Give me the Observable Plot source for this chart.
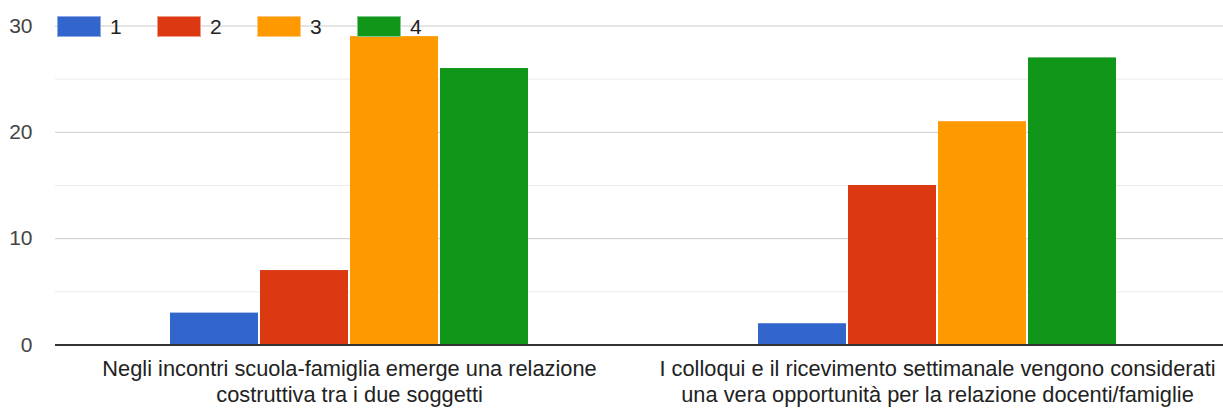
<!DOCTYPE html>
<html>
<head>
<meta charset="utf-8">
<script src="https://cdn.jsdelivr.net/npm/d3@7"></script>
<script src="https://cdn.jsdelivr.net/npm/@observablehq/plot@0.6"></script>
<style>
  html, body { margin: 0; padding: 0; background: #fff; overflow: hidden; }
  #wrap { position: relative; width: 1223px; height: 410px; font-family: "Liberation Sans", Arial, sans-serif; }
  #legend { position: absolute; left: 57px; top: 16px; display: flex; }
  .item { display: flex; align-items: center; width: 100px; height: 21px; }
  .sw { width: 42px; height: 19px; border: 1px solid; box-sizing: content-box; }
  .lb { margin-left: 9px; font-size: 21px; color: #222; line-height: 21px; }
</style>
</head>
<body>
<div id="wrap"><div id="legend"></div></div>
<script>
const questions = [
  "Negli incontri scuola-famiglia emerge una relazione\ncostruttiva tra i due soggetti",
  "I colloqui e il ricevimento settimanale vengono considerati\nuna vera opportunità per la relazione docenti/famiglie"
];
const series = ["1", "2", "3", "4"];
const colors = ["#3366cc", "#dc3912", "#ff9900", "#109618"];
const borders = ["#8fa9e3", "#ee9a85", "#ffc880", "#7fc98a"];
const valuesQ1 = [3, 7, 29, 26];
const valuesQ2 = [2, 15, 21, 27];
const yTicks = [0, 10, 20, 30];
const yMinor = [5, 15, 25];

const data = [];
[valuesQ1, valuesQ2].forEach((vals, qi) => {
  vals.forEach((v, si) => data.push({question: questions[qi], series: series[si], value: v}));
});

const chart = Plot.plot({
  width: 1223,
  height: 410,
  marginLeft: 56,
  marginRight: 0,
  marginTop: 25.5,
  marginBottom: 65.5,
  style: {fontFamily: "'Liberation Sans', Arial, sans-serif", background: "transparent", overflow: "hidden"},
  fx: {domain: questions, range: [55, 1231], padding: 0, label: null},
  x: {domain: series, paddingInner: 0.022, paddingOuter: 1.2418, axis: null},
  y: {domain: [0, 30], axis: null},
  color: {domain: series, range: colors},
  marks: [
    Plot.ruleY(yMinor, {stroke: "#ebebeb", strokeWidth: 1}),
    Plot.ruleY(yTicks.filter(d => d > 0), {stroke: "#cccccc", strokeWidth: 1}),
    Plot.barY(data, {fx: "question", x: "series", y: "value", fill: "series"}),
    Plot.ruleY([0], {stroke: "#333333", strokeWidth: 2}),
    Plot.axisY(yTicks, {anchor: "left", tickSize: 0, tickPadding: 23, fontSize: 21, fill: "#444", label: null}),
    Plot.axisFx({anchor: "bottom", tickSize: 0, tickPadding: 12, fontSize: 21.8, fill: "#222", lineHeight: 1.2, label: null})
  ]
});
document.getElementById("wrap").prepend(chart);

const legend = d3.select("#legend");
series.forEach((s, i) => {
  const it = legend.append("div").attr("class", "item");
  it.append("div").attr("class", "sw").style("background", colors[i]).style("border-color", borders[i]);
  it.append("div").attr("class", "lb").text(s);
});
</script>
</body>
</html>
